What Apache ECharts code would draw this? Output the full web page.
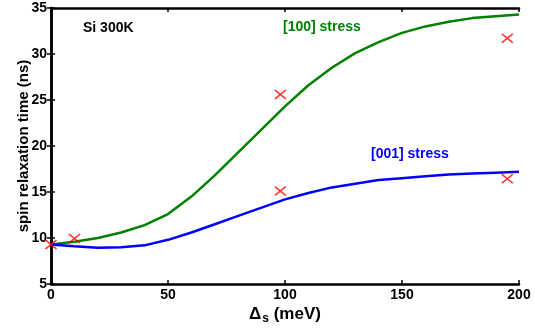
<!DOCTYPE html>
<html><head><meta charset="utf-8">
<script src="https://cdn.jsdelivr.net/npm/echarts@6/dist/echarts.min.js"></script>
<style>html,body{margin:0;padding:0;background:#fff}#c{width:535px;height:331px}</style>
</head><body><div id="c"></div>
<script>
const xCurve = [0,10,20,30,40,50,60,70,80,90,100,110,120,130,140,150,160,170,180,190,200];
const stress100 = [9.3,9.6,10.0,10.6,11.4,12.6,14.5,16.8,19.3,21.8,24.3,26.6,28.5,30.1,31.3,32.3,33.0,33.5,33.9,34.1,34.3];
const stress001 = [9.3,9.1,8.95,9.0,9.2,9.8,10.6,11.5,12.4,13.3,14.2,14.9,15.5,15.9,16.3,16.5,16.7,16.9,17.0,17.1,17.2];
const expX = [0,10,98,98,195,195];
const expY = [9.3,9.95,15.1,25.6,31.7,16.45];
const xTicks = [0,50,100,150,200];
const yTicks = [5,10,15,20,25,30,35];

const F = 'Liberation Sans, Arial, sans-serif';
const chart = echarts.init(document.getElementById('c'), null, {renderer:'canvas'});
const axisCommon = {
  axisLine:{show:true,lineStyle:{color:'#000',width:2.5}},
  axisTick:{show:true,inside:true,length:4,lineStyle:{color:'#000',width:1.5}},
  splitLine:{show:false}
};
chart.setOption({
  animation:false,
  backgroundColor:'#fff',
  grid:{left:51,right:16,top:8,bottom:47,containLabel:false},
  xAxis:[
    Object.assign({type:'value',min:xTicks[0],max:xTicks[xTicks.length-1],interval:50,position:'bottom',
      axisLabel:{color:'#000',fontFamily:F,fontWeight:'bold',fontSize:14,margin:4},
      name:'{a|Δ}{s|s}{a| (meV)}',nameLocation:'middle',nameGap:20,nameMoveOverlap:false,
      nameTextStyle:{rich:{
        a:{fontFamily:F,fontWeight:'bold',fontSize:17,color:'#000'},
        s:{fontFamily:F,fontWeight:'bold',fontSize:12,color:'#000',padding:[9,0,0,1]}
      }}
    },axisCommon),
    Object.assign({type:'value',min:xTicks[0],max:xTicks[xTicks.length-1],interval:50,position:'top',axisLabel:{show:false}},axisCommon)
  ],
  yAxis:[
    Object.assign({type:'value',min:yTicks[0],max:yTicks[yTicks.length-1],interval:5,position:'left',
      axisLabel:{color:'#000',fontFamily:F,fontWeight:'bold',fontSize:14,margin:4},
      name:'spin relaxation time (ns)',nameLocation:'middle',nameGap:20,nameMoveOverlap:false,
      nameTextStyle:{fontFamily:F,fontWeight:'bold',fontSize:15,color:'#000'}
    },axisCommon),
    Object.assign({type:'value',min:yTicks[0],max:yTicks[yTicks.length-1],interval:5,position:'right',axisLabel:{show:false}},axisCommon)
  ],
  series:[
    {type:'line',data:xCurve.map((x,i)=>[x,stress100[i]]),smooth:false,showSymbol:false,
      lineStyle:{color:'#008000',width:2.5},z:2},
    {type:'line',data:xCurve.map((x,i)=>[x,stress001[i]]),smooth:false,showSymbol:false,
      lineStyle:{color:'#0000ff',width:2.5},z:2},
    {type:'scatter',data:expX.map((x,i)=>[x,expY[i]]),symbol:'path://M0,0L10,10M10,0L0,10',symbolSize:[11,9],
      itemStyle:{color:'rgba(0,0,0,0)',borderColor:'#ff0000',borderWidth:1.6},z:3}
  ],
  graphic:[
    {type:'text',left:83,top:21,style:{text:'Si 300K',font:'bold 14px '+F,fill:'#000'}},
    {type:'text',left:283,top:20,style:{text:'[100] stress',font:'bold 14px '+F,fill:'#008000'}},
    {type:'text',left:371,top:147,style:{text:'[001] stress',font:'bold 14px '+F,fill:'#0000ff'}}
  ]
});
</script></body></html>
